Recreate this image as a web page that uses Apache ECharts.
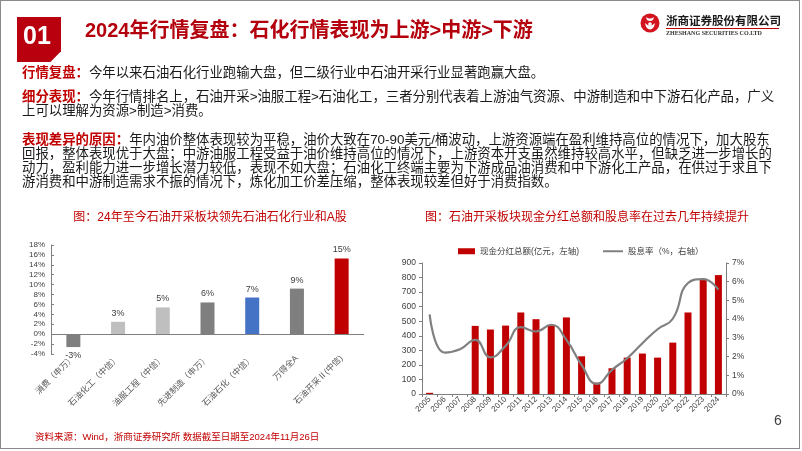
<!DOCTYPE html>
<html>
<head>
<meta charset="utf-8">
<script src="https://cdn.jsdelivr.net/npm/echarts@6/dist/echarts.min.js"></script>
<style>
  html,body{margin:0;padding:0;background:#fff;}
  body{width:802px;height:451px;position:relative;overflow:hidden;font-family:"Liberation Sans","Noto Sans CJK SC",sans-serif;}
  .abs{position:absolute;white-space:nowrap;}
  .body{font-size:13.4px;line-height:14px;color:#1a1a1a;font-family:"Liberation Sans","Noto Sans CJK SC",sans-serif;}
  .red{color:#c00000;font-weight:bold;}
</style>
</head>
<body>
<div id="chart" class="abs" style="left:0;top:0;width:802px;height:451px;"></div>
<div class="abs" style="left:0;top:0;width:798px;height:447px;border:1.5px solid #8a8a8a;pointer-events:none;"></div>
<div class="abs" style="left:17px;top:17px;width:44px;height:45px;background:#b8000f;clip-path:polygon(0 0,100% 0,100% 76%,76% 100%,0 100%);"></div>
<div class="abs" style="left:17px;top:20px;width:40px;text-align:center;color:#fff;font-weight:bold;font-size:25px;line-height:30px;font-family:'Liberation Sans',Arial,sans-serif;">01</div>
<div class="abs" style="left:85px;top:18px;font-size:20px;line-height:25px;font-weight:bold;color:#b3000c;font-family:'Liberation Sans','Noto Sans CJK SC',sans-serif;">2024年行情复盘：石化行情表现为上游&gt;中游&gt;下游</div>
<svg class="abs" style="left:640px;top:13px;" width="20" height="20" viewBox="0 0 20 20">
  <circle cx="10" cy="10" r="9.5" fill="#d2141e"/>
  <path d="M6 4 Q10 7 14 4 L13 7 Q10 9 7 7 Z" fill="#fff"/>
  <path d="M5 10 Q10 15 15 10 Q14 16 10 16.5 Q6 16 5 10 Z" fill="#fff"/>
  <circle cx="10" cy="11" r="1.8" fill="#fff"/>
</svg>
<div class="abs" style="left:666px;top:13px;font-size:11.6px;line-height:14px;font-weight:bold;color:#1a1a1a;font-family:'Noto Sans CJK SC',sans-serif;letter-spacing:-0.1px;">浙商证券股份有限公司</div>
<div class="abs" style="left:666px;top:28px;width:113px;height:1px;background:#c00000;"></div>
<div class="abs" style="left:666px;top:29px;font-size:7px;line-height:9px;font-weight:bold;color:#333;font-family:'Liberation Serif',serif;transform:scaleX(0.86);transform-origin:left top;">ZHESHANG SECURITIES CO.LTD</div>

<div class="abs body" style="left:22px;top:66px;"><span class="red">行情复盘：</span>今年以来石油石化行业跑输大盘，但二级行业中石油开采行业显著跑赢大盘。</div>
<div class="abs body" style="left:22px;top:90px;"><span class="red">细分表现：</span>今年行情排名上，石油开采&gt;油服工程&gt;石油化工，三者分别代表着上游油气资源、中游制造和中下游石化产品，广义</div>
<div class="abs body" style="left:22px;top:104px;">上可以理解为资源&gt;制造&gt;消费。</div>
<div class="abs body" style="left:22px;top:133px;"><span class="red">表现差异的原因：</span>年内油价整体表现较为平稳，油价大致在70-90美元/桶波动，上游资源端在盈利维持高位的情况下，加大股东</div>
<div class="abs body" style="left:22px;top:147px;">回报，整体表现优于大盘；中游油服工程受益于油价维持高位的情况下，上游资本开支虽然维持较高水平，但缺乏进一步增长的</div>
<div class="abs body" style="left:22px;top:161px;">动力，盈利能力进一步增长潜力较低，表现不如大盘；石油化工终端主要为下游成品油消费和中下游化工产品，在供过于求且下</div>
<div class="abs body" style="left:22px;top:175px;">游消费和中游制造需求不振的情况下，炼化加工价差压缩，整体表现较差但好于消费指数。</div>

<div class="abs" style="left:35px;top:431px;font-size:9.5px;line-height:12px;color:#c00000;font-family:'Liberation Sans','Noto Sans CJK SC',sans-serif;">资料来源：Wind，浙商证券研究所 数据截至日期至2024年11月26日</div>
<div class="abs" style="left:774px;top:411px;font-size:14px;line-height:18px;color:#404040;font-family:'Liberation Sans',sans-serif;">6</div>

<script>
// ---- Left chart data ----
var sectorNames = ['消费（申万）', '石油化工（中信）', '油服工程（中信）', '先进制造（申万）', '石油石化（中信）', '万得全A', '石油开采Ⅱ(中信)'];
var sectorReturns = [-2.6, 2.5, 5.4, 6.4, 7.4, 9.2, 15.3];
var sectorTicks = [-4, -2, 0, 2, 4, 6, 8, 10, 12, 14, 16, 18];

// ---- Right chart data ----
var years = ['2005','2006','2007','2008','2009','2010','2011','2012','2013','2014','2015','2016','2017','2018','2019','2020','2021','2022','2023','2024'];
var dividends = [8, 0, 0, 468, 443, 470, 560, 514, 470, 526, 259, 78, 177, 250, 278, 250, 353, 560, 785, 817];
var yields = [4.25, 2.21, 2.39, 2.89, 1.96, 2.57, 3.57, 3.34, 3.70, 2.89, 1.55, 0.54, 1.29, 1.91, 2.71, 3.46, 4.02, 5.93, 6.14, 5.57];

var sectorColors = ['#7f7f7f', '#bfbfbf', '#bfbfbf', '#7f7f7f', '#4472c4', '#7f7f7f', '#c00000'];

var chart = echarts.init(document.getElementById('chart'));
var FONT = '"Liberation Sans", Arial, "Noto Sans CJK SC", sans-serif';
var axisGray = '#7f7f7f';

var option = {
  animation: false,
  textStyle: { fontFamily: FONT },
  graphic: [
    { type: 'text', x: 210, y: 218, style: { text: '图：24年至今石油开采板块领先石油石化行业和A股', fill: '#c00000', font: '12px ' + FONT, textAlign: 'center', textVerticalAlign: 'middle' } },
    { type: 'text', x: 587, y: 218, style: { text: '图：石油开采板块现金分红总额和股息率在过去几年持续提升', fill: '#c00000', font: '12px ' + FONT, textAlign: 'center', textVerticalAlign: 'middle' } }
  ],
  legend: [
    { data: ['现金分红总额(亿元，左轴)'], left: 453, top: 242, itemWidth: 17, itemHeight: 6, icon: 'rect',
      textStyle: { fontSize: 8.5, color: '#404040', fontFamily: FONT } },
    { data: ['股息率（%，右轴）'], left: 598, top: 242, itemWidth: 20, itemHeight: 2, icon: 'rect',
      textStyle: { fontSize: 8.5, color: '#404040', fontFamily: FONT } }
  ],
  grid: [
    { left: 51, top: 245, width: 313, height: 109 },
    { left: 422, top: 263, width: 304, height: 131 }
  ],
  xAxis: [
    { type: 'category', gridIndex: 0, data: sectorNames,
      axisLine: { show: false, onZero: false }, axisTick: { show: false },
      axisLabel: { rotate: 45, interval: 0, fontSize: 8.5, color: '#595959', margin: 3, fontFamily: FONT } },
    { type: 'category', gridIndex: 1, data: years,
      axisLine: { show: true, lineStyle: { color: axisGray } }, axisTick: { show: true, length: 3, lineStyle: { color: axisGray } },
      axisLabel: { rotate: 45, interval: 0, fontSize: 8, color: '#404040', margin: 4 } }
  ],
  yAxis: [
    { type: 'value', gridIndex: 0, min: sectorTicks[0], max: sectorTicks[sectorTicks.length - 1], interval: 2,
      axisLine: { show: true, lineStyle: { color: axisGray } },
      axisTick: { show: true, inside: true, length: 3, lineStyle: { color: axisGray } },
      splitLine: { show: false },
      axisLabel: { formatter: '{value}%', fontSize: 8, color: '#404040', margin: 6 } },
    { type: 'value', gridIndex: 1, min: 0, max: 900, interval: 100,
      axisLine: { show: true, lineStyle: { color: axisGray } },
      axisTick: { show: true, length: 3, lineStyle: { color: axisGray } },
      splitLine: { show: false },
      axisLabel: { fontSize: 8.5, color: '#404040', margin: 6 } },
    { type: 'value', gridIndex: 1, position: 'right', min: 0, max: 7, interval: 1,
      axisLine: { show: true, lineStyle: { color: axisGray } },
      axisTick: { show: true, length: 3, lineStyle: { color: axisGray } },
      splitLine: { show: false },
      axisLabel: { formatter: '{value}%', fontSize: 8.5, color: '#404040', margin: 6 } }
  ],
  series: [
    { type: 'bar', name: 'sector', xAxisIndex: 0, yAxisIndex: 0, barWidth: 14,
      data: sectorReturns.map(function (v, i) {
        return { value: v, itemStyle: { color: sectorColors[i] }, label: { position: v < 0 ? 'bottom' : 'top' } };
      }),
      label: { show: true, distance: 4, fontSize: 9, color: '#404040',
        formatter: function (p) { return Math.round(p.value) + '%'; } },
      markLine: { silent: true, symbol: ['none', 'none'], label: { show: false },
        lineStyle: { color: axisGray, type: 'solid', width: 1 }, data: [{ yAxis: 0 }] } },
    { type: 'bar', name: '现金分红总额(亿元，左轴)', xAxisIndex: 1, yAxisIndex: 1, barWidth: 7,
      itemStyle: { color: '#c00000' }, data: dividends },
    { type: 'line', name: '股息率（%，右轴）', xAxisIndex: 1, yAxisIndex: 2, smooth: 0.5, symbol: 'none',
      itemStyle: { color: '#808080' }, lineStyle: { color: '#808080', width: 2.2 }, data: yields }
  ]
};
chart.setOption(option);
</script>
</body>
</html>
